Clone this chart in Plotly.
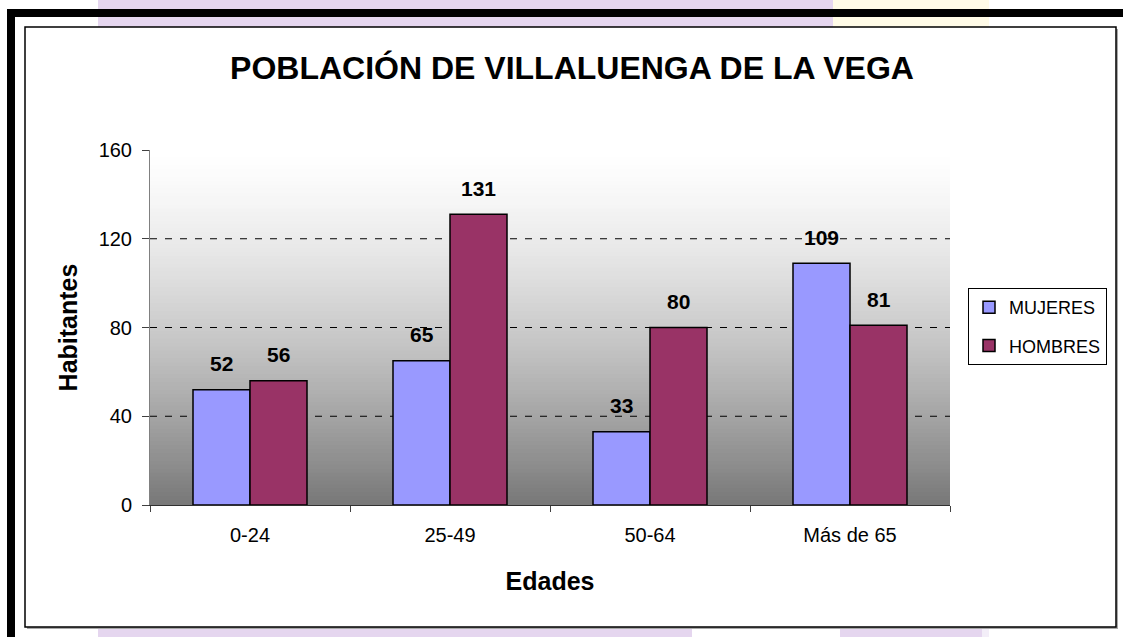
import plotly.graph_objects as go

# ---- data ----
categories = ["0-24", "25-49", "50-64", "Más de 65"]
mujeres = [52, 65, 33, 109]
hombres = [56, 131, 80, 81]
series_names = ["MUJERES", "HOMBRES"]
y_ticks = [0, 40, 80, 120, 160]
title_text = "POBLACIÓN DE VILLALUENGA DE LA VEGA"
x_title = "Edades"
y_title = "Habitantes"

# ---- layout geometry (pixels) ----
W, H = 1123, 637
L, R, T, B = 150, 173, 150, 132
PW, PH = W - L - R, H - T - B


def px(x):
    return (x - L) / PW


def py(y):
    return (H - B - y) / PH


FONT = "Arial, Liberation Sans, sans-serif"
C_MUJ = "#9999FF"
C_HOM = "#993366"

fig = go.Figure()
for name, vals, col in [(series_names[0], mujeres, C_MUJ), (series_names[1], hombres, C_HOM)]:
    fig.add_trace(go.Bar(
        x=categories, y=vals, name=name, legendgroup=name,
        marker=dict(color=col, line=dict(color="black", width=1.5)),
    ))

shapes = []


def rect(x0, y0, x1, y1, fill, line=None, lw=0):
    shapes.append(dict(type="rect", xref="paper", yref="paper",
                       x0=px(x0), x1=px(x1), y0=py(y0), y1=py(y1),
                       fillcolor=fill, line=dict(color=line or fill, width=lw),
                       layer="below"))


# decorative strips / borders around the chart
rect(98, 0, 833, 27, "#E5D6EF")
rect(833, 0, 989, 27, "#FFFBE7")
rect(98, 628, 692, 637, "#E5D6EF")
rect(840, 628, 982, 637, "#E5D6EF")
rect(982, 628, 989, 637, "#F3EEF8")
rect(7, 9, 1123, 17, "black")
rect(7, 9, 15, 637, "black")
# chart frame with shadow
rect(27, 29, 1118, 629, "#A8A8A8")
rect(25, 27, 1116, 627, "white", "black", 1.5)

# plot-area gradient (white at top to grey at bottom)
N = 90
for i in range(N):
    t0 = i / N
    t1 = (i + 1) / N
    tm = (t0 + t1) / 2
    c = int(round(255 - 135 * tm ** 1.4))
    shapes.append(dict(type="rect", xref="paper", yref="paper",
                       x0=0, x1=1, y0=1 - t1, y1=1 - t0 + 0.002,
                       fillcolor=f"rgb({c},{c},{c})", line=dict(width=0),
                       layer="below"))

# dashed gridlines (inner ticks only)
for v in y_ticks[1:-1]:
    shapes.append(dict(type="line", xref="paper", yref="y", x0=0, x1=1, y0=v, y1=v,
                       line=dict(color="black", width=1, dash="7px,8px"), layer="below"))

# data labels
annotations = []
for vals, shift in [(mujeres, -28.5), (hombres, 28.5)]:
    for cat, v in zip(categories, vals):
        annotations.append(dict(x=cat, y=v, xref="x", yref="y", text=f"<b>{v}</b>",
                                showarrow=False, xshift=shift, yshift=26,
                                font=dict(family=FONT, size=21, color="black")))

fig.update_layout(
    width=W, height=H,
    margin=dict(l=L, r=R, t=T, b=B),
    paper_bgcolor="white", plot_bgcolor="rgba(0,0,0,0)",
    barmode="group", bargap=0.43, bargroupgap=0,
    shapes=shapes, annotations=annotations,
    title=dict(text=f"<b>{title_text}</b>", x=572 / W, xanchor="center",
               y=1 - 68 / H, yanchor="middle",
               font=dict(family=FONT, size=32, color="black")),
    font=dict(family=FONT, color="black"),
    showlegend=True,
    legend=dict(x=px(968), y=py(288), xanchor="left", yanchor="top",
                bgcolor="white", bordercolor="black", borderwidth=1,
                font=dict(family=FONT, size=18, color="black"),
                tracegroupgap=12, traceorder="grouped"),
    xaxis=dict(
        type="category", tickson="boundaries", ticks="outside", ticklen=6,
        tickcolor="#404040", showline=True, linecolor="#303030", linewidth=1,
        showgrid=False, tickfont=dict(family=FONT, size=20, color="black"),
        ticklabelstandoff=12,
        title=dict(text=f"<b>{x_title}</b>", font=dict(family=FONT, size=25, color="black"),
                   standoff=27),
    ),
    yaxis=dict(
        range=[0, 160], tickvals=y_ticks, ticks="outside", ticklen=7,
        tickcolor="#404040", showline=True, linecolor="#808080", linewidth=1,
        showgrid=False, zeroline=False, tickfont=dict(family=FONT, size=20, color="black"),
        ticklabelstandoff=6,
        title=dict(text=f"<b>{y_title}</b>", font=dict(family=FONT, size=25, color="black"),
                   standoff=13),
    ),
)

fig.write_html("out.html", config={"displayModeBar": False},
               post_script="document.body.style.margin='0';")
